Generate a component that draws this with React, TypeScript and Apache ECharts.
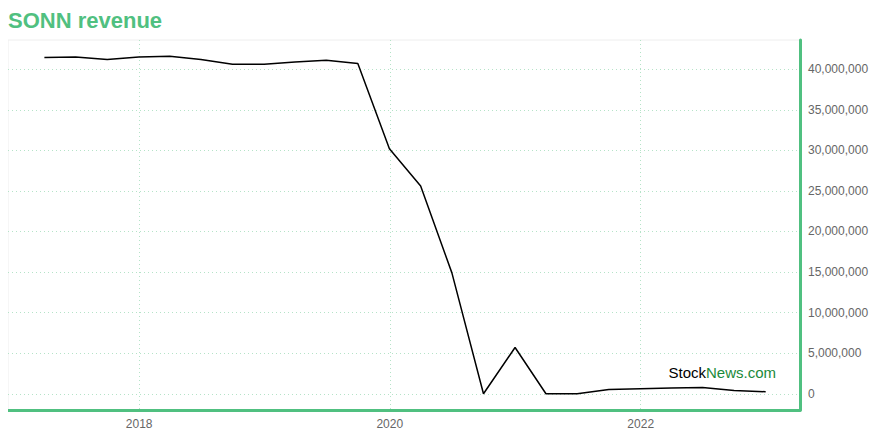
import React, { useEffect, useRef } from "react";
import * as echarts from "echarts";

const dates: string[] = [
  "2017-03-31", "2017-06-30", "2017-09-30", "2017-12-31",
  "2018-03-31", "2018-06-30", "2018-09-30", "2018-12-31",
  "2019-03-31", "2019-06-30", "2019-09-30", "2019-12-31",
  "2020-03-31", "2020-06-30", "2020-09-30", "2020-12-31",
  "2021-03-31", "2021-06-30", "2021-09-30", "2021-12-31",
  "2022-03-31", "2022-06-30", "2022-09-30", "2022-12-31",
];
const revenue: number[] = [
  41440000, 41500000, 41200000, 41500000,
  41600000, 41200000, 40600000, 40600000,
  40900000, 41100000, 40700000, 30200000,
  25600000, 14900000, 0, 5700000,
  0, 0, 530000, 620000,
  700000, 780000, 410000, 250000,
];
const yTicks: number[] = [0, 5000000, 10000000, 15000000, 20000000, 25000000, 30000000, 35000000, 40000000];
const xTickYears: number[] = [2018, 2020, 2022];

export default function App() {
  const ref = useRef<HTMLDivElement>(null);
  useEffect(() => {
    if (!ref.current) return;
    const chart = echarts.init(ref.current, undefined, { renderer: "svg" });
    const green = "#50c080";
    const font = "Liberation Sans, Arial, sans-serif";
    const ts = (s: string) => new Date(s + "T00:00:00Z").getTime();
    const xTicks = xTickYears.map((y) => Date.UTC(y, 0, 1));
    chart.setOption({
      animation: false,
      title: {
        text: "SONN revenue",
        left: 3,
        top: 4,
        textStyle: { color: green, fontSize: 22, fontWeight: "bold", fontFamily: font },
      },
      grid: {
        left: 8,
        right: 80,
        top: 40,
        bottom: 30,
        show: true,
        borderColor: "#eeeeee",
        borderWidth: 1,
      },
      xAxis: {
        type: "value",
        min: ts("2016-12-15"),
        max: ts("2023-04-10"),
        axisLine: { show: true, onZero: false, lineStyle: { color: green, width: 3 } },
        axisTick: { show: false, customValues: xTicks },
        axisLabel: {
          color: "#666",
          fontSize: 12,
          fontFamily: font,
          customValues: xTicks,
          formatter: (v: number) => String(new Date(v).getUTCFullYear()),
        },
        splitLine: { show: true, lineStyle: { color: "#b5e3c8", type: [1, 3] } },
      },
      yAxis: {
        type: "value",
        position: "right",
        min: -2000000,
        max: 43600000,
        axisLine: { show: true, lineStyle: { color: green, width: 3 } },
        axisTick: { show: false, customValues: yTicks },
        axisLabel: {
          color: "#666",
          fontSize: 12,
          fontFamily: font,
          margin: 8,
          customValues: yTicks,
          formatter: (v: number) => v.toLocaleString("en-US"),
        },
        splitLine: { show: true, lineStyle: { color: "#b5e3c8", type: [1, 3] } },
      },
      series: [
        {
          type: "line",
          data: dates.map((d, i) => [ts(d), revenue[i]]),
          showSymbol: false,
          lineStyle: { color: "#000", width: 1.5 },
          itemStyle: { color: "#000" },
        },
      ],
      graphic: [
        {
          type: "text",
          right: 104,
          top: 365,
          style: {
            text: "{a|Stock}{b|News.com}",
            rich: {
              a: { fill: "#000", fontSize: 15, fontFamily: font },
              b: { fill: "#1a8a3a", fontSize: 15, fontFamily: font },
            },
          },
        },
      ],
    });
    return () => chart.dispose();
  }, []);
  return <div ref={ref} style={{ width: 880, height: 440, margin: -8 }} />;
}
